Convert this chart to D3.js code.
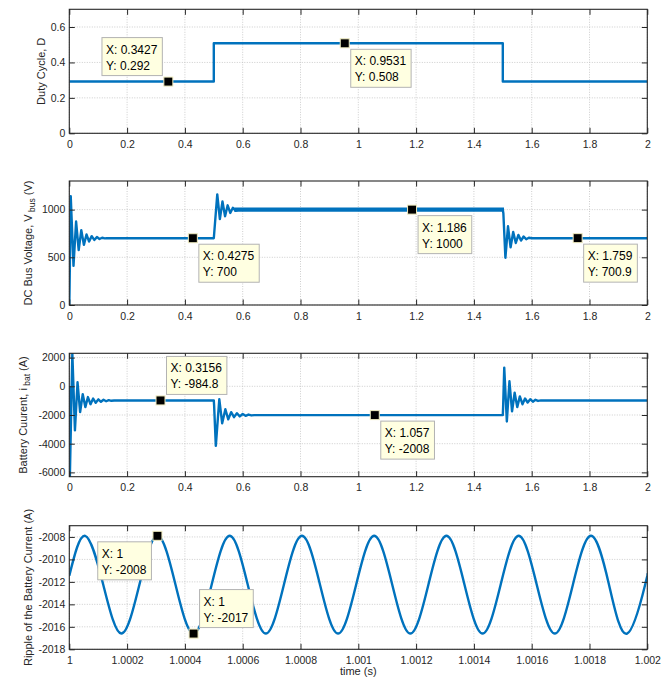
<!DOCTYPE html>
<html><head><meta charset="utf-8">
<script src="https://cdn.jsdelivr.net/npm/d3@7"></script>
<style>
body{margin:0;background:#fff}
svg{display:block;font-family:"Liberation Sans",Arial,Helvetica,sans-serif}
</style>
</head><body>
<svg id="c" width="670" height="682"></svg>
<script>
// ---------------- DATA ----------------
// Panel 1: duty cycle
const dutyTime  = [0, 0.5, 0.5, 1.5, 1.5, 2];
const dutyValue = [0.292, 0.292, 0.508, 0.508, 0.292, 0.292];

// Panel 2: DC bus voltage
const vbusTime  = [0, 0.0008, 0.005, 0.0145, 0.0235, 0.0325, 0.0415, 0.0505, 0.0595, 0.0685, 0.0775, 0.0865, 0.0955, 0.1045, 0.1135, 0.1225, 0.13,
                   0.5, 0.512, 0.521, 0.530, 0.539, 0.548, 0.557, 0.566, 0.575, 0.585,
                   1.5, 1.502, 1.509, 1.518, 1.527, 1.536, 1.545, 1.554, 1.563, 1.572, 1.581, 1.59, 1.6, 2];
const vbusValue = [0, 150, 1140, 410, 875, 575, 785, 630, 740, 665, 722, 682, 712, 692, 705, 698, 700,
                   700, 1160, 900, 1085, 930, 1045, 965, 1020, 988, 1000,
                   1000, 960, 495, 825, 605, 765, 650, 735, 675, 718, 690, 705, 700, 700];
// switching ripple band on the 1000 V plateau
const vbusBandTime = [0.575, 1.5];
const vbusBandLow  = [991, 991];
const vbusBandHigh = [1009, 1009];

// Panel 3: battery current
const ibatTime  = [0, 0.002, 0.0105, 0.0195, 0.0285, 0.0375, 0.0465, 0.0555, 0.0645, 0.0735, 0.0825, 0.0915, 0.1005, 0.1095, 0.1185, 0.1275, 0.1365, 0.1455, 0.155,
                   0.5, 0.501, 0.507, 0.519, 0.529, 0.540, 0.550, 0.560, 0.570, 0.580, 0.590, 0.600, 0.610, 0.620, 0.630, 0.640,
                   1.5, 1.501, 1.505, 1.514, 1.523, 1.532, 1.541, 1.550, 1.559, 1.568, 1.577, 1.586, 1.595, 1.604, 1.613, 1.622, 1.632, 2];
const ibatValue = [0, -6300, 2300, -3070, 280, -1800, -550, -1450, -750, -1250, -850, -1150, -910, -1080, -940, -1040, -960, -1010, -985,
                   -985, -1300, -4150, -900, -2580, -1600, -2300, -1800, -2150, -1880, -2100, -1930, -2060, -1970, -2030, -2008,
                   -2008, -1500, 1300, -2450, 350, -1750, -450, -1450, -700, -1250, -850, -1130, -900, -1070, -940, -1020, -985, -985];

// Panel 4: ripple of the battery current (samples at peaks, crossings, troughs)
const rippleTime  = [1.0, 1.000055, 1.0001175, 1.00018, 1.0002425, 1.000305, 1.0003675, 1.00043, 1.0004925,
                     1.000555, 1.0006175, 1.00068, 1.0007425, 1.000805, 1.0008675, 1.00093, 1.0009925,
                     1.001055, 1.0011175, 1.00118, 1.0012425, 1.001305, 1.0013675, 1.00143, 1.0014925,
                     1.001555, 1.0016175, 1.00168, 1.0017425, 1.001805, 1.0018675, 1.00193, 1.0019925, 1.002];
const rippleValue = [-2011.45, -2007.9, -2012.25, -2016.6, -2012.25, -2007.9, -2012.25, -2016.6, -2012.25,
                     -2007.9, -2012.25, -2016.6, -2012.25, -2007.9, -2012.25, -2016.6, -2012.25,
                     -2007.9, -2012.25, -2016.6, -2012.25, -2007.9, -2012.25, -2016.6, -2012.25,
                     -2007.9, -2012.25, -2016.6, -2012.25, -2007.9, -2012.25, -2016.6, -2012.25, -2011.45];

// Ticks
const timeTicks       = [0, 0.2, 0.4, 0.6, 0.8, 1, 1.2, 1.4, 1.6, 1.8, 2];
const timeTickLabels  = ["0", "0.2", "0.4", "0.6", "0.8", "1", "1.2", "1.4", "1.6", "1.8", "2"];
const rippleTimeTicks = [1, 1.0002, 1.0004, 1.0006, 1.0008, 1.001, 1.0012, 1.0014, 1.0016, 1.0018, 1.002];
const rippleTimeLabels= ["1", "1.0002", "1.0004", "1.0006", "1.0008", "1.001", "1.0012", "1.0014", "1.0016", "1.0018", "1.002"];
const dutyTicks   = [0, 0.2, 0.4, 0.6];
const dutyLabels  = ["0", "0.2", "0.4", "0.6"];
const vbusTicks   = [0, 500, 1000];
const vbusLabels  = ["0", "500", "1000"];
const ibatTicks   = [-6000, -4000, -2000, 0, 2000];
const ibatLabels  = ["-6000", "-4000", "-2000", "0", "2000"];
const rippleTicks = [-2018, -2016, -2014, -2012, -2010, -2008];
const rippleLabels= ["-2018", "-2016", "-2014", "-2012", "-2010", "-2008"];

// Data tips
const tipPanel = [0, 0, 1, 1, 1, 2, 2, 3, 3];
const tipX     = [0.3427, 0.9531, 0.4275, 1.186, 1.759, 0.3156, 1.057, 1.000305, 1.00043];
const tipY     = [0.292, 0.508, 700, 1000, 700.9, -984.8, -2008, -2007.9, -2016.6];
const tipTextX = ["0.3427", "0.9531", "0.4275", "1.186", "1.759", "0.3156", "1.057", "1", "1"];
const tipTextY = ["0.292", "0.508", "700", "1000", "700.9", "-984.8", "-2008", "-2008", "-2017"];

// ---------------- LAYOUT ----------------
const L = 69.3, R = 647.3;
const tipPlacement = ["ul", "lr", "lr", "lr", "lr", "ur", "lr", "ll", "ur"];
const BLUE = "#0072BD", INK = "#262626";

const panels = [
  {top: 9.3,   bottom: 133.3, xd: [0, 2], yd: [0, 0.7], xt: timeTicks, xl: timeTickLabels, yt: dutyTicks, yl: dutyLabels,
   label: [{t: "Duty Cycle, D"}], labelX: 45,
   series: [{x: dutyTime, y: dutyValue}], curve: d3.curveLinear},
  {top: 181,   bottom: 305,   xd: [0, 2], yd: [0, 1300], xt: timeTicks, xl: timeTickLabels, yt: vbusTicks, yl: vbusLabels,
   label: [{t: "DC Bus Voltage, V"}, {t: " bus", sub: true}, {t: " (V)"}], labelX: 31.5,
   series: [{x: vbusTime, y: vbusValue}], band: true, curve: d3.curveLinear},
  {top: 353.3, bottom: 476.7, xd: [0, 2], yd: [-6300, 2300], xt: timeTicks, xl: timeTickLabels, yt: ibatTicks, yl: ibatLabels,
   label: [{t: "Battery Cuurent, i"}, {t: " bat", sub: true}, {t: " (A)"}], labelX: 26.5,
   series: [{x: ibatTime, y: ibatValue}], curve: d3.curveLinear},
  {top: 525.7, bottom: 649.3, xd: [1, 1.002], yd: [-2018, -2007], xt: rippleTimeTicks, xl: rippleTimeLabels, yt: rippleTicks, yl: rippleLabels,
   label: [{t: "Ripple of the Battery Current (A)"}], labelX: 32,
   series: [{x: rippleTime, y: rippleValue}], curve: d3.curveNatural}
];

const svg = d3.select("#c");
const defs = svg.append("defs");

panels.forEach((p, pi) => {
  const x = d3.scaleLinear().domain(p.xd).range([L, R]);
  const y = d3.scaleLinear().domain(p.yd).range([p.bottom, p.top]);
  p.x = x; p.y = y;
  const g = svg.append("g");

  defs.append("clipPath").attr("id", "clip" + pi)
    .append("rect").attr("x", L).attr("y", p.top).attr("width", R - L).attr("height", p.bottom - p.top);

  // grid
  const grid = g.append("g").attr("stroke", "#c0c0c0").attr("stroke-width", 0.8).attr("stroke-dasharray", "1,1.5");
  p.xt.forEach(v => grid.append("line").attr("x1", x(v)).attr("x2", x(v)).attr("y1", p.top).attr("y2", p.bottom));
  p.yt.forEach(v => grid.append("line").attr("x1", L).attr("x2", R).attr("y1", y(v)).attr("y2", y(v)));

  // data
  const plot = g.append("g").attr("clip-path", `url(#clip${pi})`);
  if (p.band) {
    const area = d3.area().x((d, i) => x(vbusBandTime[i])).y0((d, i) => y(vbusBandLow[i])).y1((d, i) => y(vbusBandHigh[i]));
    plot.append("path").attr("d", area(vbusBandTime)).attr("fill", BLUE).attr("stroke", BLUE).attr("stroke-width", 2.4);
  }
  p.series.forEach(s => {
    const line = d3.line().x((d, i) => x(s.x[i])).y((d, i) => y(s.y[i])).curve(p.curve);
    plot.append("path").attr("d", line(s.x)).attr("fill", "none").attr("stroke", BLUE)
      .attr("stroke-width", 2.4).attr("stroke-linejoin", "round");
  });

  // axes
  const fmtX = (d, i) => p.xl[i], fmtY = (d, i) => p.yl[i];
  const ax = (gen) => g.append("g").call(gen).call(a => a.select(".domain").remove())
      .call(a => a.selectAll("line").attr("stroke", INK))
      .call(a => a.selectAll("text").attr("fill", INK).attr("font-size", "10.5px").attr("font-family", null));
  ax(d3.axisBottom(x).tickValues(p.xt).tickFormat(fmtX).tickSize(-5.5).tickPadding(7.3)).attr("transform", `translate(0,${p.bottom})`);
  ax(d3.axisTop(x).tickValues(p.xt).tickFormat("").tickSize(-5.5)).attr("transform", `translate(0,${p.top})`);
  ax(d3.axisLeft(y).tickValues(p.yt).tickFormat(fmtY).tickSize(-5.5).tickPadding(4)).attr("transform", `translate(${L},0)`);
  ax(d3.axisRight(y).tickValues(p.yt).tickFormat("").tickSize(-5.5)).attr("transform", `translate(${R},0)`);

  g.append("rect").attr("x", L).attr("y", p.top).attr("width", R - L).attr("height", p.bottom - p.top)
    .attr("fill", "none").attr("stroke", INK).attr("stroke-width", 1.1);

  // y label
  const cy = (p.top + p.bottom) / 2;
  const t = g.append("text").attr("transform", `translate(${p.labelX},${cy}) rotate(-90)`)
    .attr("text-anchor", "middle").attr("font-size", "11px").attr("fill", INK);
  p.label.forEach((part, k) => {
    const ts = t.append("tspan").text(part.t).attr("xml:space", "preserve");
    if (part.sub) ts.attr("font-size", "8.5px").attr("dy", 3.2);
    else if (k > 0 && p.label[k - 1].sub) ts.attr("dy", -3.2);
  });
  t.style("white-space", "pre");
});

// x label
svg.append("text").attr("x", (L + R) / 2).attr("y", 675).attr("text-anchor", "middle")
  .attr("font-size", "11px").attr("fill", INK).text("time (s)");

// data tips
tipX.forEach((tx, i) => {
  const p = panels[tipPanel[i]];
  const mx = p.x(tx), my = p.y(tipY[i]);
  const g = svg.append("g");
  const box = g.append("rect");
  const l1 = g.append("text").attr("font-size", "12px").attr("fill", "#000").text("X: " + tipTextX[i]);
  const l2 = g.append("text").attr("font-size", "12px").attr("fill", "#000").text("Y: " + tipTextY[i]);
  const w = Math.max(l1.node().getComputedTextLength(), l2.node().getComputedTextLength()) + 9;
  const h = 38;
  const pl = tipPlacement[i];
  const bx = pl[1] === "l" ? mx - 6 - w : mx + 6;
  const by = pl[0] === "u" ? my - 6 - h : my + 6;
  box.attr("x", bx).attr("y", by).attr("width", w).attr("height", h)
    .attr("fill", "#ffffe1").attr("stroke", "#b3b3b3").attr("stroke-width", 1);
  l1.attr("x", bx + 4).attr("y", by + 16);
  l2.attr("x", bx + 4).attr("y", by + 32);
  g.append("rect").attr("x", mx - 4.5).attr("y", my - 4.5).attr("width", 9).attr("height", 9)
    .attr("fill", "#000").attr("stroke", "#f0ecc0").attr("stroke-width", 1);
});
</script>
</body></html>
